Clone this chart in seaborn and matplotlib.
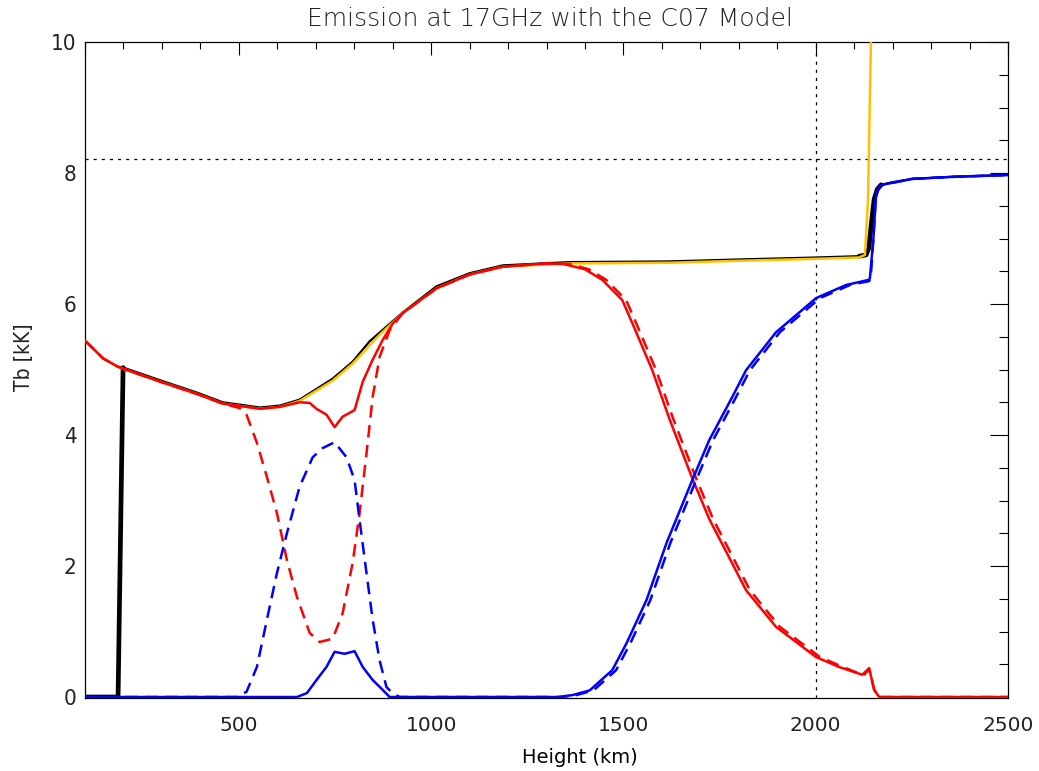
import numpy as np
import pandas as pd
import matplotlib
matplotlib.use("Agg")
import matplotlib.pyplot as plt
from matplotlib.ticker import MultipleLocator
import seaborn as sns

# ---- brightness temperature contributions vs. height (kK) ----
total_h = [100, 186, 199, 303, 390, 458, 555, 607, 658, 744, 796, 840, 926, 1014,
           1100, 1186, 1360, 1619, 1800, 2000, 2113, 2131, 2138, 2146, 2152, 2160,
           2170, 2200, 2251, 2350, 2500]
total_tb = [0.0, 0.0, 5.03, 4.82, 4.65, 4.50, 4.42, 4.45, 4.54, 4.86, 5.12, 5.43,
            5.87, 6.27, 6.47, 6.59, 6.64, 6.65, 6.68, 6.71, 6.73, 6.75, 6.85, 7.30,
            7.60, 7.75, 7.82, 7.86, 7.91, 7.94, 7.97]

lte_h = [100, 147, 183, 200, 303, 390, 458, 555, 607, 658, 744, 796, 866, 926, 1014,
         1100, 1186, 1360, 1619, 1800, 2000, 2113, 2128, 2136, 2150]
lte_tb = [5.44, 5.17, 5.05, 5.01, 4.80, 4.63, 4.48, 4.40, 4.43, 4.52, 4.83, 5.09,
          5.53, 5.86, 6.24, 6.45, 6.57, 6.62, 6.63, 6.66, 6.69, 6.71, 6.75, 7.60, 12.0]

red_h = [100, 147, 183, 200, 303, 390, 458, 555, 607, 658, 684, 702, 728, 749, 770,
         801, 822, 848, 874, 900, 926, 1014, 1100, 1186, 1300, 1345, 1400, 1445, 1497,
         1523, 1575, 1620, 1679, 1723, 1819, 1897, 2001, 2060, 2121, 2139, 2152, 2165,
         2500]
red_tb = [5.44, 5.17, 5.05, 5.01, 4.80, 4.63, 4.48, 4.40, 4.43, 4.50, 4.49, 4.40,
          4.31, 4.12, 4.28, 4.38, 4.81, 5.15, 5.45, 5.70, 5.86, 6.24, 6.45, 6.57, 6.62,
          6.61, 6.53, 6.37, 6.06, 5.71, 4.99, 4.24, 3.34, 2.72, 1.63, 1.07, 0.61, 0.46,
          0.34, 0.44, 0.11, 0.0, 0.0]

red2_h = [100, 147, 183, 200, 303, 390, 458, 503, 520, 547, 573, 599, 625, 651, 684,
          710, 744, 770, 796, 814, 832, 848, 866, 892, 926, 1014, 1100, 1186, 1300,
          1360, 1410, 1455, 1507, 1533, 1585, 1630, 1689, 1733, 1829, 1907, 2011, 2070,
          2125, 2139, 2152, 2165, 2500]
red2_tb = [5.44, 5.17, 5.05, 5.01, 4.80, 4.63, 4.48, 4.41, 4.31, 3.88, 3.36, 2.81,
           2.09, 1.53, 0.98, 0.84, 0.89, 1.28, 2.05, 2.81, 3.72, 4.58, 5.19, 5.60, 5.86,
           6.24, 6.45, 6.57, 6.62, 6.61, 6.53, 6.37, 6.06, 5.71, 4.99, 4.24, 3.34, 2.72,
           1.63, 1.07, 0.61, 0.46, 0.33, 0.43, 0.11, 0.0, 0.0]

blue_h = [100, 651, 677, 702, 728, 749, 775, 801, 822, 848, 874, 892, 1330, 1368,
          1412, 1471, 1508, 1560, 1612, 1679, 1723, 1783, 1819, 1897, 2001, 2079, 2139,
          2141, 2150, 2157, 2165, 2173, 2251, 2350, 2500]
blue_tb = [0.0, 0.0, 0.06, 0.26, 0.46, 0.69, 0.66, 0.70, 0.46, 0.26, 0.11, 0.0, 0.0,
           0.03, 0.10, 0.41, 0.82, 1.48, 2.35, 3.31, 3.92, 4.58, 4.99, 5.57, 6.09, 6.29,
           6.37, 6.40, 7.00, 7.69, 7.78, 7.82, 7.91, 7.94, 7.97]

blue2_h = [100, 494, 520, 547, 573, 599, 625, 658, 692, 718, 749, 780, 801, 814, 832,
           848, 866, 884, 900, 918, 1340, 1378, 1422, 1481, 1518, 1570, 1622, 1689, 1733,
           1793, 1829, 1907, 2011, 2089, 2139, 2143, 2150, 2157, 2165, 2173, 2251, 2350,
           2500]
blue2_tb = [0.0, 0.0, 0.08, 0.46, 1.18, 1.89, 2.50, 3.21, 3.66, 3.80, 3.89, 3.66,
            3.31, 2.70, 1.89, 1.18, 0.56, 0.15, 0.06, 0.0, 0.0, 0.03, 0.10, 0.41, 0.82,
            1.48, 2.35, 3.31, 3.92, 4.58, 4.99, 5.57, 6.09, 6.29, 6.35, 6.40, 7.00, 7.69,
            7.78, 7.82, 7.91, 7.94, 7.97]

ref_height = 2000
ref_tb = 8.21

sns.set_theme(style="white")
plt.rcParams["font.family"] = ["DejaVu Sans"]

fig = plt.figure(figsize=(10.39, 7.71), dpi=100)
ax = fig.add_axes([85 / 1039, 1 - 698 / 771, 923 / 1039, 656 / 771])

def draw(h, tb, **kw):
    sns.lineplot(x=h, y=tb, ax=ax, sort=False, estimator=None, **kw)

dash = (0, (5, 3))
# total: thin along the profile, heavy at the base step and the transition-region jump
draw(total_h, total_tb, color="black", lw=1.6, zorder=2)
draw(total_h[:3], total_tb[:3], color="black", lw=3.4, zorder=2)
draw(total_h[20:27], total_tb[20:27], color="black", lw=3.4, zorder=2)
draw(lte_h, lte_tb, color="#FFC000", lw=1.8, zorder=3)
draw(red_h, red_tb, color="#FF0000", lw=1.8, zorder=4)
draw(red2_h, red2_tb, color="#FF0000", lw=1.8, linestyle=dash, zorder=4)
draw(blue_h, blue_tb, color="#0000FF", lw=1.8, zorder=5)
draw(blue2_h, blue2_tb, color="#0000FF", lw=1.8, linestyle=dash, zorder=5)

ax.axvline(ref_height, color="black", lw=0.9, linestyle=(0, (2.5, 4)), zorder=1)
ax.axhline(ref_tb, color="black", lw=0.9, linestyle=(0, (2.5, 4)), zorder=1)

ax.set_xlim(100, 2500)
ax.set_ylim(-0.015, 10)
ax.xaxis.set_major_locator(MultipleLocator(500))
ax.xaxis.set_minor_locator(MultipleLocator(100))
ax.yaxis.set_major_locator(MultipleLocator(2))
ax.yaxis.set_minor_locator(MultipleLocator(0.5))

for s in ax.spines.values():
    s.set_color("black")
    s.set_linewidth(0.9)

ax.tick_params(which="both", direction="in", top=True, right=True, color="black",
               width=0.8)
ax.tick_params(axis="x", which="major", length=9.5, pad=13, labelsize=14.5,
               labelcolor="#222222")
ax.tick_params(axis="x", which="minor", length=5)
ax.tick_params(axis="y", which="major", length=13, pad=6, labelsize=16,
               labelcolor="#222222")
ax.tick_params(axis="y", which="minor", length=6.5)

for lab in ax.get_yticklabels():
    lab.set_fontweight("light")
    lab.set_fontstretch("condensed")

ax.set_xlabel("Height (km)", fontsize=14, color="black", va="center")
ax.xaxis.set_label_coords(0.536, -0.09)
ax.set_ylabel("Tb [kK]", fontsize=15, fontweight="light", fontstretch="condensed",
              color="#222222", va="center")
ax.yaxis.set_label_coords(-0.066, 0.52)

fig.text(550 / 1039, 1 - 19 / 771, "Emission at 17GHz with the C07 Model",
         ha="center", va="center", fontsize=18, fontweight="light", color="#222222")

fig.savefig("out.png", dpi=100)
